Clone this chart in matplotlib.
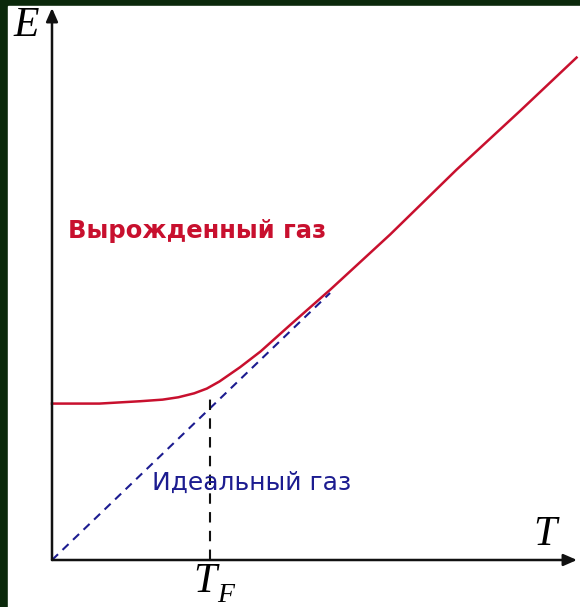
import numpy as np
import matplotlib.pyplot as plt
from matplotlib.patches import Rectangle

# energy of the gas vs temperature (units of T_F)
T_curve = [0.0, 0.30, 0.56, 0.70, 0.80, 0.90, 0.98, 1.06, 1.19, 1.32, 1.51,
           1.76, 2.14, 2.56, 2.96, 3.32]
E_curve = [0.99, 0.99, 1.005, 1.015, 1.03, 1.055, 1.085, 1.13, 1.22, 1.32, 1.49,
           1.71, 2.06, 2.47, 2.84, 3.18]

# classical ideal gas line
T_ideal = [0.0, 1.76]
E_ideal = [0.0, 1.69]

T_F = 1.0
E_at_TF = 1.05

px = 158.0  # pixels per unit
W, H = 580, 607
x0, y0 = 52, 560

fig = plt.figure(figsize=(W / 100, H / 100), dpi=100)
fig.patch.set_facecolor('#0b290b')
fig.patches.append(Rectangle((8 / W, 0), 1 - 8 / W, 1 - 6 / H,
                             transform=fig.transFigure, color='white', zorder=-5))

ax = fig.add_axes([x0 / W, (H - y0) / H, 1 - x0 / W, y0 / H])
ax.set_xlim(0, (W - x0) / px)
ax.set_ylim(0, y0 / px)
ax.set_facecolor('none')
ax.axis('off')

# axes with arrows
arr = dict(arrowstyle='-|>,head_length=0.8,head_width=0.35', color='#111111',
           lw=1.8, shrinkA=0, shrinkB=0)
ax.annotate('', xy=(0, 552 / px), xytext=(0, 0), xycoords='data', arrowprops=arr,
            annotation_clip=False)
ax.annotate('', xy=(525 / px, 0), xytext=(0, 0), xycoords='data', arrowprops=arr,
            annotation_clip=False)

ax.plot(T_curve, E_curve, color='#c8102e', lw=1.8, clip_on=False,
        solid_joinstyle='round')
ax.plot(T_ideal, E_ideal, color='#1c1c90', lw=1.5, ls=(0, (4, 3)))
ax.plot([T_F, T_F], [0, E_at_TF], color='#111111', lw=1.5, ls=(0, (5, 4)))

ax.text(-0.165, 3.38, 'E', family='Liberation Serif', style='italic', fontsize=30,
        ha='center', va='center', clip_on=False)
ax.text(3.12, 0.16, 'T', family='Liberation Serif', style='italic', fontsize=30,
        ha='center', va='center')
ax.text(T_F - 0.03, -0.14, 'T', family='Liberation Serif', style='italic', fontsize=30,
        ha='center', va='center', clip_on=False)
ax.text(T_F + 0.1, -0.225, 'F', family='Liberation Serif', style='italic', fontsize=20,
        ha='center', va='center', clip_on=False)

ax.text(0.1, 2.08, 'Вырожденный газ', color='#c8102e', fontsize=17.5,
        family='DejaVu Sans', weight='bold', ha='left', va='center')
ax.text(0.63, 0.49, 'Идеальный газ', color='#1c1c90', fontsize=18,
        family='DejaVu Sans', ha='left', va='center')

fig.savefig('out.png', dpi=100, facecolor=fig.get_facecolor())
